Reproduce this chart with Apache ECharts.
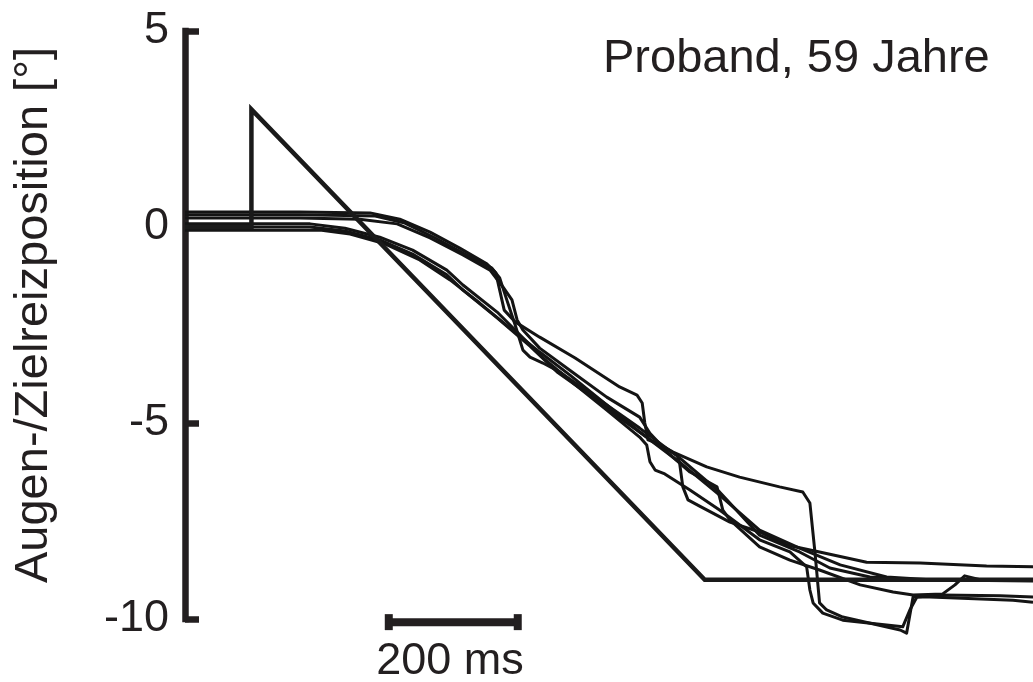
<!DOCTYPE html>
<html>
<head>
<meta charset="utf-8">
<script src="https://cdn.jsdelivr.net/npm/echarts@6/dist/echarts.min.js"></script>
<style>
html,body{margin:0;padding:0;background:#fff;}
#chart{width:1033px;height:682px;}
</style>
</head>
<body>
<div id="chart"></div>
<script>
// ---- data (time in ms from trace start, position in degrees) ----
const yTicks = [-10, -5, 0, 5];
const targetTrace = [[0,0],[103,0],[103,3],[806,-9],[1315,-9]];
const eye1 = [[0,0.38],[178,0.38],[287,0.36],[333,0.20],[380,-0.13],[426,-0.54],[468,-0.94],[482,-1.17],[488,-1.61],[495,-2.12],[512,-2.42],[550,-2.81],[605,-3.34],[674,-4.08],[701,-4.29],[709,-4.49],[713,-5.00],[718,-5.43],[732,-5.51],[757,-5.74],[809,-6.12],[860,-6.38],[922,-6.63],[958,-6.76],[969,-7.04],[977,-8.32],[984,-9.59],[995,-9.77],[1020,-9.95],[1109,-10.28],[1119,-10.36],[1129,-9.44],[1155,-9.44],[1284,-9.52],[1315,-9.57]];
const eye2 = [[0,0.23],[178,0.23],[271,0.20],[329,0.08],[380,-0.28],[431,-0.71],[473,-1.10],[493,-1.53],[507,-1.86],[515,-2.37],[524,-2.63],[550,-3.09],[602,-3.72],[654,-4.34],[705,-4.85],[721,-5.26],[741,-5.61],[763,-5.82],[767,-6.02],[772,-6.63],[780,-6.96],[798,-7.12],[845,-7.53],[891,-7.78],[933,-8.11],[984,-8.29],[1057,-8.55],[1140,-8.57],[1243,-8.65],[1315,-8.67]];
const eye3 = [[0,0.08],[194,0.08],[248,-0.03],[302,-0.26],[353,-0.59],[406,-1.10],[431,-1.48],[484,-2.17],[515,-2.68],[555,-3.34],[602,-3.98],[654,-4.67],[705,-5.36],[716,-5.56],[721,-5.99],[729,-6.20],[744,-6.30],[783,-6.71],[829,-7.22],[891,-7.98],[938,-8.29],[964,-8.67],[969,-9.26],[974,-9.59],[989,-9.85],[1020,-10.03],[1113,-10.20],[1124,-9.77],[1135,-9.44],[1171,-9.39],[1264,-9.41],[1315,-9.44]];
const eye4 = [[0,0.0],[194,0.0],[248,-0.10],[302,-0.33],[353,-0.69],[406,-1.22],[431,-1.61],[484,-2.32],[535,-3.04],[577,-3.70],[628,-4.29],[674,-4.87],[705,-5.23],[744,-5.69],[783,-6.25],[825,-6.63],[829,-6.89],[834,-7.22],[845,-7.47],[891,-8.16],[938,-8.50],[984,-8.75],[1047,-9.13],[1098,-9.31],[1129,-9.39],[1175,-9.36],[1194,-9.13],[1209,-8.90],[1233,-9.00],[1315,-9.00]];
const eye5 = [[0,-0.08],[209,-0.08],[256,-0.18],[310,-0.43],[364,-0.84],[411,-1.35],[457,-1.94],[504,-2.58],[550,-3.19],[597,-3.78],[654,-4.54],[705,-5.23],[767,-6.00],[829,-6.84],[891,-7.73],[953,-8.19],[1016,-8.62],[1088,-8.93],[1155,-9.00],[1315,-9.00]];
const eye6 = [[0,0.31],[178,0.31],[295,0.28],[341,0.10],[388,-0.28],[434,-0.69],[476,-1.05],[488,-1.30],[499,-1.86],[512,-2.50],[524,-3.14],[535,-3.32],[555,-3.47],[581,-3.70],[643,-4.41],[705,-5.13],[767,-5.89],[829,-6.76],[891,-7.86],[953,-8.29],[1000,-8.70],[1062,-8.93],[1140,-9.00],[1315,-9.03]];
const scaleBarStart = 316;
const scaleBarLength = 200;
const scaleBarLevel = -10.08;
const scaleBarLabel = '200 ms';
const titleText = 'Proband, 59 Jahre';
const yName = 'Augen-/Zielreizposition [°]';

const FONT = '"Liberation Sans", Arial, sans-serif';
const INK = '#231f20';
const chart = echarts.init(document.getElementById('chart'), null, {renderer:'canvas'});

const eyeSeries = [eye1, eye2, eye3, eye4, eye5, eye6].map(d => ({
  type: 'line', data: d, showSymbol: false, symbol: 'none', clip: false, silent: true, z: 2,
  lineStyle: { color: '#141414', width: 3, join: 'round' }
}));

chart.setOption({
  animation: false,
  grid: { left: 185, right: 0, top: 31, bottom: 63, containLabel: false },
  xAxis: { type: 'value', min: 0, max: 1315, show: false },
  yAxis: {
    type: 'value', min: yTicks[0], max: yTicks[yTicks.length-1], interval: 5,
    axisLine: { show: true, lineStyle: { color: INK, width: 6.5, cap: 'square' } },
    axisTick: { show: true, inside: true, length: 14, lineStyle: { color: INK, width: 6.5 } },
    axisLabel: { fontSize: 45, color: INK, fontFamily: FONT, margin: 16 },
    splitLine: { show: false }
  },
  series: eyeSeries.concat([
    { type: 'line', data: targetTrace, showSymbol: false, symbol: 'none', clip: false, silent: true, z: 3,
      lineStyle: { color: '#1a1a1a', width: 4.5, join: 'miter' } },
    { type: 'line', data: [[scaleBarStart, scaleBarLevel], [scaleBarStart + scaleBarLength, scaleBarLevel]],
      clip: false, silent: true, z: 4, showSymbol: true, symbol: 'rect', symbolSize: [8, 16],
      itemStyle: { color: INK }, lineStyle: { color: INK, width: 8 } }
  ]),
  graphic: [
    { type: 'text', x: 34, y: 315, rotation: Math.PI / 2,
      style: { text: yName, fill: INK, font: '47px ' + FONT, textAlign: 'center', textVerticalAlign: 'middle', align: 'center', verticalAlign: 'middle' } },
    { type: 'text', x: 603, y: 59,
      style: { text: titleText, fill: INK, font: '47px ' + FONT, textAlign: 'left', textVerticalAlign: 'middle', align: 'left', verticalAlign: 'middle' } },
    { type: 'text', x: 450, y: 662,
      style: { text: scaleBarLabel, fill: INK, font: '45px ' + FONT, textAlign: 'center', textVerticalAlign: 'middle', align: 'center', verticalAlign: 'middle' } }
  ]
});
</script>
</body>
</html>
